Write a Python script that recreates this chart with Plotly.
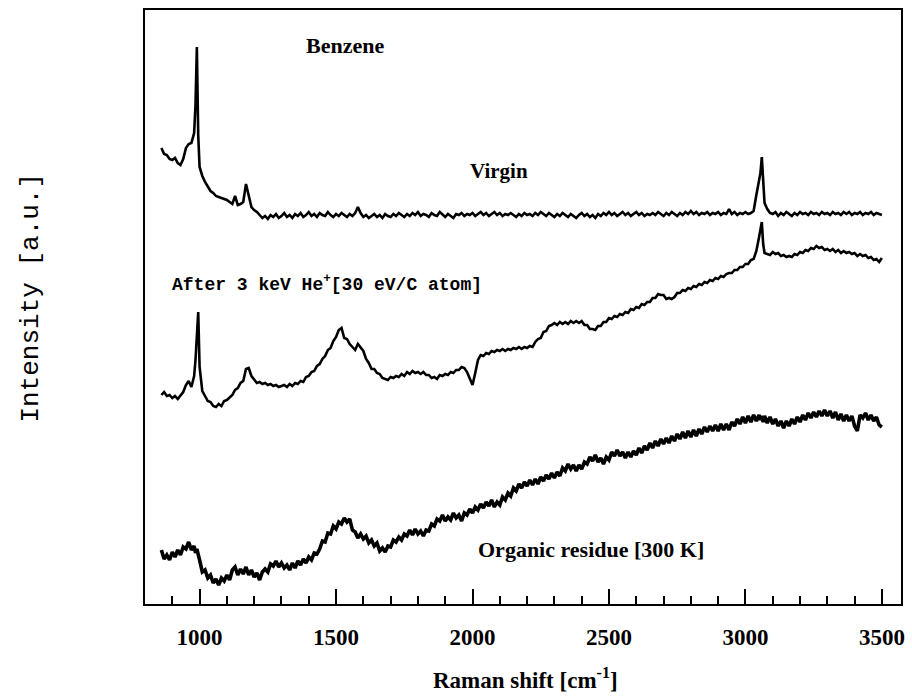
import plotly.graph_objects as go

# Raman shift sampling positions (cm^-1)
shift = [
    860, 870, 880, 890, 900, 910, 920, 930, 940, 950,
    960, 970, 980, 985, 990, 995, 1000, 1010, 1020, 1030,
    1040, 1050, 1060, 1070, 1080, 1090, 1100, 1110, 1120, 1130,
    1140, 1150, 1160, 1170, 1180, 1190, 1200, 1210, 1220, 1230,
    1240, 1250, 1260, 1270, 1280, 1290, 1300, 1310, 1320, 1330,
    1340, 1350, 1360, 1370, 1380, 1390, 1400, 1410, 1420, 1430,
    1440, 1450, 1460, 1470, 1480, 1490, 1500, 1510, 1520, 1530,
    1540, 1550, 1560, 1570, 1580, 1590, 1600, 1610, 1620, 1630,
    1640, 1650, 1660, 1670, 1680, 1690, 1700, 1710, 1720, 1730,
    1740, 1750, 1760, 1770, 1780, 1790, 1800, 1810, 1820, 1830,
    1840, 1850, 1860, 1870, 1880, 1890, 1900, 1910, 1920, 1930,
    1940, 1950, 1960, 1970, 1980, 1990, 2000, 2010, 2020, 2030,
    2040, 2050, 2060, 2070, 2080, 2090, 2100, 2110, 2120, 2130,
    2140, 2150, 2160, 2170, 2180, 2190, 2200, 2210, 2220, 2230,
    2240, 2250, 2260, 2270, 2280, 2290, 2300, 2310, 2320, 2330,
    2340, 2350, 2360, 2370, 2380, 2390, 2400, 2410, 2420, 2430,
    2440, 2450, 2460, 2470, 2480, 2490, 2500, 2510, 2520, 2530,
    2540, 2550, 2560, 2570, 2580, 2590, 2600, 2610, 2620, 2630,
    2640, 2650, 2660, 2670, 2680, 2690, 2700, 2710, 2720, 2730,
    2740, 2750, 2760, 2770, 2780, 2790, 2800, 2810, 2820, 2830,
    2840, 2850, 2860, 2870, 2880, 2890, 2900, 2910, 2920, 2930,
    2940, 2950, 2960, 2970, 2980, 2990, 3000, 3010, 3020, 3030,
    3040, 3050, 3055, 3060, 3065, 3070, 3080, 3090, 3100, 3110,
    3120, 3130, 3140, 3150, 3160, 3170, 3180, 3190, 3200, 3210,
    3220, 3230, 3240, 3250, 3260, 3270, 3280, 3290, 3300, 3310,
    3320, 3330, 3340, 3350, 3360, 3370, 3380, 3390, 3400, 3410,
    3420, 3430, 3440, 3450, 3460, 3470, 3480, 3490, 3500,
]

# Virgin benzene (offset, a.u.)
virgin = [
    457, 451, 450, 446, 445, 447, 442, 440, 446, 457,
    461, 462, 472, 500, 558, 470, 438, 429, 423, 418,
    414, 412, 409, 408, 407, 406, 405, 403, 401, 409,
    400, 401, 403, 421, 409, 398, 395, 393, 390, 387,
    389, 386, 390, 388, 391, 387, 389, 392, 388, 390,
    387, 391, 389, 392, 388, 390, 393, 389, 391, 388,
    392, 390, 389, 393, 390, 388, 391, 389, 392, 390,
    388, 391, 389, 392, 398, 392, 388, 390, 387, 389,
    391, 388, 390, 387, 391, 389, 388, 391, 389, 392,
    390, 388, 391, 389, 392, 390, 393, 389, 391, 390,
    388, 392, 390, 389, 393, 390, 388, 391, 389, 387,
    391, 390, 392, 389, 391, 390, 392, 389, 391, 393,
    390, 392, 389, 391, 393, 390, 392, 389, 391, 390,
    392, 390, 388, 391, 389, 392, 390, 391, 389, 392,
    390, 393, 391, 389, 392, 390, 388, 391, 389, 392,
    390, 388, 391, 389, 387, 390, 392, 389, 391, 388,
    390, 387, 391, 389, 392, 390, 393, 390, 392, 389,
    391, 393, 390, 392, 389, 391, 393, 390, 392, 389,
    391, 390, 392, 390, 393, 391, 389, 392, 390, 393,
    391, 389, 392, 390, 393, 391, 394, 391, 393, 390,
    392, 391, 393, 390, 392, 391, 393, 390, 392, 391,
    396, 391, 393, 390, 392, 391, 393, 391, 392, 394,
    410, 423, 432, 448, 418, 402, 396, 392, 391, 393,
    389, 392, 390, 393, 391, 389, 392, 390, 393, 391,
    392, 390, 393, 391, 392, 390, 393, 391, 392, 390,
    393, 391, 392, 390, 393, 391, 393, 390, 392, 391,
    393, 390, 392, 391, 393, 390, 392, 391, 390,
]

# After 3 keV He+ irradiation (30 eV/C atom)
irradiated = [
    210, 213, 209, 210, 207, 209, 206, 210, 213, 220,
    224, 218, 229, 245, 272, 293, 238, 214, 209, 204,
    203, 199, 198, 201, 199, 204, 205, 208, 210, 215,
    217, 222, 224, 236, 237, 229, 226, 222, 223, 221,
    222, 220, 221, 219, 220, 218, 219, 220, 218, 221,
    219, 222, 221, 224, 223, 228, 229, 233, 234, 239,
    241, 246, 249, 255, 257, 264, 268, 275, 277, 267,
    266, 261, 258, 255, 261, 257, 254, 246, 242, 236,
    236, 232, 231, 227, 226, 225, 228, 227, 229, 228,
    231, 229, 233, 231, 234, 232, 233, 231, 233, 230,
    230, 227, 228, 226, 230, 229, 231, 230, 233, 232,
    235, 235, 238, 237, 233, 226, 220, 232, 245, 250,
    249, 252, 251, 254, 253, 255, 254, 256, 254, 256,
    255, 257, 256, 258, 256, 258, 257, 259, 258, 263,
    266, 267, 273, 274, 279, 280, 282, 280, 283, 281,
    283, 281, 284, 282, 284, 282, 284, 280, 280, 276,
    276, 275, 279, 279, 283, 283, 287, 286, 289, 288,
    291, 290, 293, 292, 296, 295, 298, 297, 301, 300,
    303, 303, 307, 307, 311, 310, 310, 306, 307, 306,
    308, 312, 312, 315, 314, 317, 316, 319, 318, 321,
    320, 323, 322, 325, 324, 327, 326, 329, 328, 331,
    332, 332, 335, 335, 338, 338, 341, 341, 345, 346,
    354, 368, 374, 383, 361, 352, 351, 350, 353, 351,
    352, 349, 350, 348, 349, 348, 351, 350, 353, 352,
    355, 354, 357, 356, 359, 357, 358, 355, 356, 354,
    356, 353, 355, 352, 354, 352, 353, 351, 352, 349,
    351, 349, 350, 347, 348, 345, 346, 343, 347,
]

# Organic residue at 300 K
residue = [
    55, 46, 50, 45, 53, 48, 55, 50, 58, 56,
    63, 55, 59, 52, 56, 49, 45, 33, 35, 27,
    30, 22, 26, 20, 27, 24, 30, 25, 35, 38,
    30, 36, 31, 38, 30, 35, 28, 32, 25, 33,
    36, 33, 41, 39, 44, 38, 42, 37, 40, 35,
    42, 37, 44, 40, 46, 42, 48, 45, 52, 51,
    56, 64, 63, 72, 71, 79, 76, 83, 81, 87,
    83, 86, 75, 73, 67, 71, 66, 69, 62, 65,
    59, 62, 54, 57, 53, 59, 58, 65, 63, 68,
    65, 71, 69, 75, 70, 76, 71, 74, 69, 75,
    74, 81, 79, 86, 84, 90, 84, 88, 85, 92,
    87, 90, 84, 92, 90, 96, 92, 98, 95, 101,
    97, 103, 99, 105, 98, 103, 100, 108, 105, 112,
    109, 117, 114, 121, 117, 123, 119, 125, 120, 126,
    121, 128, 124, 130, 126, 132, 127, 133, 129, 137,
    134, 141, 136, 140, 134, 140, 136, 143, 141, 148,
    144, 150, 143, 147, 141, 148, 145, 153, 149, 155,
    149, 153, 147, 153, 148, 154, 150, 157, 152, 159,
    155, 162, 157, 164, 159, 166, 161, 167, 162, 169,
    164, 171, 166, 173, 167, 174, 168, 175, 169, 176,
    171, 178, 173, 179, 174, 180, 174, 181, 175, 181,
    175, 183, 179, 186, 181, 188, 182, 189, 183, 190,
    184, 190, 185, 189, 183, 189, 182, 188, 181, 186,
    179, 184, 177, 184, 179, 186, 181, 188, 183, 190,
    185, 192, 187, 193, 188, 194, 189, 195, 189, 194,
    187, 193, 185, 191, 184, 190, 184, 189, 179, 174,
    190, 187, 192, 185, 190, 184, 188, 180, 178,
]

major_ticks = [1000, 1500, 2000, 2500, 3000, 3500]
minor_ticks = [900, 1100, 1200, 1300, 1400, 1600, 1700, 1800, 1900,
               2100, 2200, 2300, 2400, 2600, 2700, 2800, 2900,
               3100, 3200, 3300, 3400]

assert len(shift) == len(virgin) == len(irradiated) == len(residue), (
    len(shift), len(virgin), len(irradiated), len(residue))

# ---- layout geometry (pixels) ----
W, H = 912, 696
L, R, T, B = 145, 905, 10, 604


def px(p):
    return (p - L) / (R - L)


def py(p):
    return (B - p) / (B - T)


fig = go.Figure()
fig.add_trace(go.Scatter(x=shift, y=virgin, mode="lines",
                         line=dict(color="black", width=2.6), showlegend=False))
fig.add_trace(go.Scatter(x=shift, y=irradiated, mode="lines",
                         line=dict(color="black", width=2.6), showlegend=False))
fig.add_trace(go.Scatter(x=shift, y=residue, mode="lines",
                         line=dict(color="black", width=3.6), showlegend=False))

serif = "Liberation Serif, Times New Roman, serif"
mono = "Liberation Mono, Courier New, monospace"

fig.update_layout(
    width=W, height=H,
    margin=dict(l=L, r=W - R, t=T, b=H - B, pad=0),
    paper_bgcolor="white", plot_bgcolor="white",
    xaxis=dict(
        range=[800, 3570], showgrid=False, zeroline=False,
        showline=True, linecolor="black", linewidth=2, mirror=True,
        tickmode="array", tickvals=major_ticks,
        ticktext=[str(v) for v in major_ticks],
        ticks="inside", ticklen=15, tickwidth=2, tickcolor="black",
        minor=dict(tickmode="array", tickvals=minor_ticks, ticks="inside",
                   ticklen=8, tickwidth=2, tickcolor="black", showgrid=False),
        tickfont=dict(family=serif, size=23, color="black", weight="bold"),
        ticklabelstandoff=11,
    ),
    yaxis=dict(
        range=[1, 595], showgrid=False, zeroline=False,
        showline=True, linecolor="black", linewidth=2, mirror=True,
        ticks="", showticklabels=False,
    ),
)

ann = [
    dict(text="Benzene", x=px(346), y=py(45), xanchor="center", yanchor="middle",
         font=dict(family=serif, size=22, color="black", weight="bold")),
    dict(text="Virgin", x=px(501), y=py(171), xanchor="center", yanchor="middle",
         font=dict(family=serif, size=21, color="black", weight="bold")),
    dict(text="After 3 keV He<sup>+</sup>[30 eV/C atom]", x=px(170), y=py(283),
         xanchor="left", yanchor="middle",
         font=dict(family=mono, size=18, color="black", weight="bold")),
    dict(text="Organic residue [300 K]", x=px(593), y=py(549),
         xanchor="center", yanchor="middle",
         font=dict(family=serif, size=22, color="black", weight="bold")),
    dict(text="Raman shift [cm<sup>-1</sup>]", x=px(528), y=py(678),
         xanchor="center", yanchor="middle",
         font=dict(family=serif, size=23, color="black", weight="bold")),
    dict(text="Intensity [a.u.]", x=px(30), y=py(298), textangle=-90,
         xanchor="center", yanchor="middle",
         font=dict(family=mono, size=26, color="black")),
]
for a in ann:
    a.update(xref="paper", yref="paper", showarrow=False)
fig.update_layout(annotations=ann)

fig.write_html("out.html")
